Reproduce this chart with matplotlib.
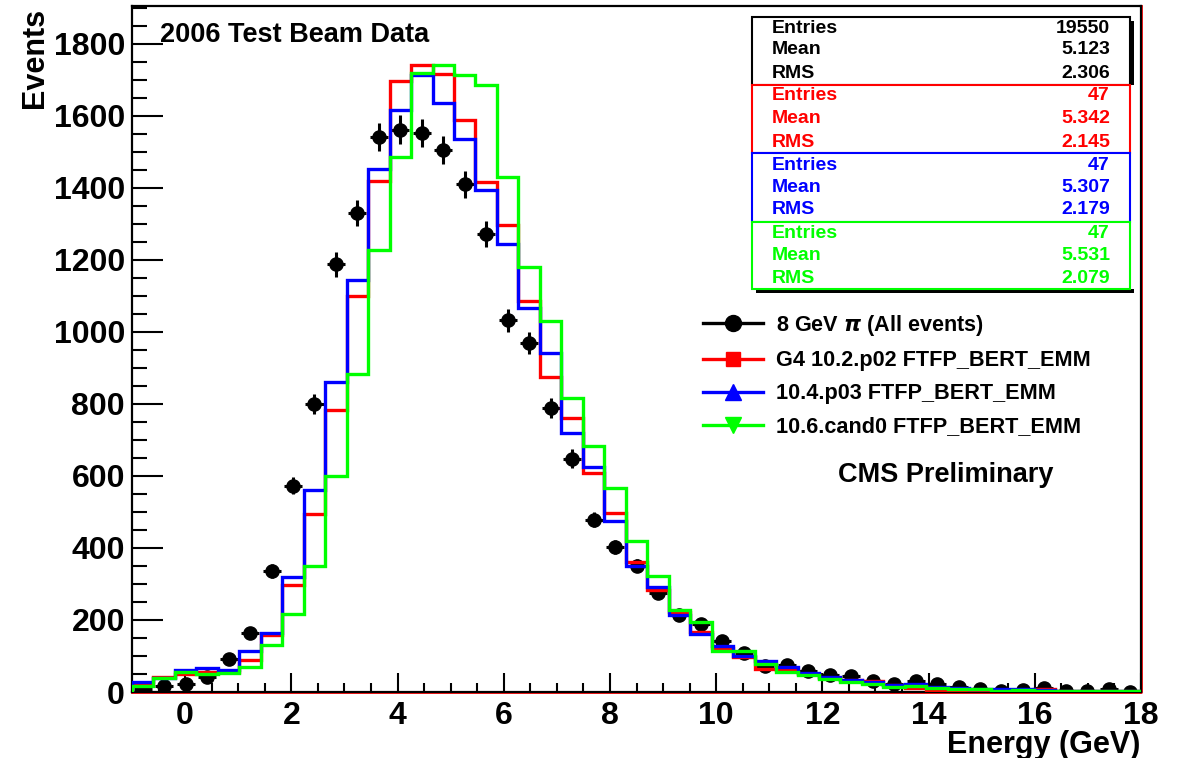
import numpy as np
import matplotlib
matplotlib.use("Agg")
import matplotlib.pyplot as plt
from matplotlib.lines import Line2D
from matplotlib.patches import Rectangle
from matplotlib.ticker import MultipleLocator

plt.rcParams['font.family'] = ['Liberation Sans', 'DejaVu Sans']
plt.rcParams['font.weight'] = 'bold'
plt.rcParams['mathtext.fontset'] = 'dejavusans'

# ---------------- data ----------------
x_min, x_max, n_bins = -1.0, 18.0, 47
edges = np.linspace(x_min, x_max, n_bins + 1)
centers = 0.5 * (edges[1:] + edges[:-1])

data_counts = [9, 16, 23, 43, 91, 164, 336, 573, 799, 1188,
               1330, 1541, 1562, 1553, 1504, 1410, 1271, 1032, 969, 789,
               648, 479, 402, 351, 275, 214, 188, 143, 109, 71,
               76, 57, 48, 44, 30, 23, 30, 21, 15, 9,
               4, 6, 11, 4, 2, 7, 1]

g4_102 = [23, 41, 50, 55, 55, 90, 157, 298, 493, 784,
          1101, 1418, 1697, 1740, 1715, 1588, 1416, 1296, 1085, 876,
          761, 608, 498, 361, 282, 222, 168, 123, 97, 64,
          62, 50, 40, 32, 30, 20, 12, 5, 6, 5,
          4, 4, 9, 4, 3, 3, 2]

g4_104 = [29, 40, 60, 67, 60, 115, 165, 319, 562, 861,
          1143, 1451, 1615, 1713, 1637, 1536, 1395, 1245, 1066, 941,
          720, 626, 474, 349, 291, 215, 162, 127, 101, 85,
          69, 53, 41, 32, 27, 20, 23, 15, 11, 9,
          7, 7, 5, 4, 3, 4, 2]

g4_106 = [18, 38, 55, 50, 53, 69, 131, 217, 351, 599,
          884, 1228, 1486, 1718, 1740, 1713, 1685, 1430, 1180, 1029,
          816, 683, 566, 419, 321, 228, 195, 115, 115, 78,
          55, 46, 37, 27, 23, 15, 18, 12, 9, 8,
          4, 5, 4, 4, 3, 3, 2]

x_err = 0.17

legend_labels = ["8 GeV $\\pi$ (All events)",
                 "G4 10.2.p02 FTFP_BERT_EMM",
                 "10.4.p03 FTFP_BERT_EMM",
                 "10.6.cand0 FTFP_BERT_EMM"]

stat_names = ["Entries", "Mean", "RMS"]
stat_values = [["19550", "5.123", "2.306"],
               ["47", "5.342", "2.145"],
               ["47", "5.307", "2.179"],
               ["47", "5.531", "2.079"]]
colors = ["black", "#ff0000", "#0000ff", "#00ff00"]

# ---------------- figure ----------------
W, H = 1184, 758
fig = plt.figure(figsize=(W / 100, H / 100), dpi=100)
ax_l, ax_r, ax_t, ax_b = 132, 1141, 6, 692
ax = fig.add_axes([ax_l / W, 1 - ax_b / H, (ax_r - ax_l) / W, (ax_b - ax_t) / H])


def fp(x, y):
    return (x / W, 1 - y / H)


y_max = 1905

ax.errorbar(centers, data_counts, yerr=np.sqrt(data_counts), xerr=x_err,
            fmt='o', color='black', ms=9.5, elinewidth=2.2, capsize=0, zorder=2)
ax.plot([x_min, x_max, x_max], [0, 0, y_max], color=colors[1], lw=2,
        zorder=2.5, clip_on=False)
ax.stairs(g4_102, edges, baseline=0, color=colors[1], lw=2.4, zorder=3)
ax.stairs(g4_104, edges, baseline=0, color=colors[2], lw=2.4, zorder=4)
ax.stairs(g4_106, edges, baseline=0, color=colors[3], lw=2.4, zorder=5)

ax.set_xlim(x_min, x_max)
ax.set_ylim(0, y_max)
ax.xaxis.set_major_locator(MultipleLocator(2))
ax.xaxis.set_minor_locator(MultipleLocator(0.5))
ax.yaxis.set_major_locator(MultipleLocator(200))
ax.yaxis.set_minor_locator(MultipleLocator(50))
ax.tick_params(axis='x', which='major', direction='in', length=13.7, width=1.5,
               labelsize=23, pad=6.5, top=False)
ax.tick_params(axis='x', which='minor', direction='in', length=6.8, width=1.5, top=False)
ax.tick_params(axis='y', which='major', direction='in', length=22.3, width=1.5,
               labelsize=23, pad=5, right=False)
ax.tick_params(axis='y', which='minor', direction='in', length=11, width=1.5, right=False)
for lab in ax.get_xticklabels() + ax.get_yticklabels():
    lab.set_fontweight('bold')
for sp in ax.spines.values():
    sp.set_linewidth(1.6)

# axis titles
fig.text(*fp(35, 8), "Events", rotation=90, ha='center', va='top',
         fontsize=22, fontweight='bold')
fig.text(*fp(1140, 745), "Energy (GeV)", ha='right', va='center',
         fontsize=22, fontweight='bold')

fig.text(*fp(160, 35), "2006 Test Beam Data", ha='left', va='center',
         fontsize=19.5, fontweight='bold')
fig.text(*fp(838, 475), "CMS Preliminary", ha='left', va='center',
         fontsize=19.5, fontweight='bold')

# legend
handles = [
    Line2D([], [], color=colors[0], lw=2.4, marker='o', ms=11.5),
    Line2D([], [], color=colors[1], lw=2.4, marker='s', ms=10.5),
    Line2D([], [], color=colors[2], lw=2.4, marker='^', ms=11),
    Line2D([], [], color=colors[3], lw=2.4, marker='v', ms=11),
]
ax.legend(handles, legend_labels, loc='upper left', bbox_to_anchor=fp(703, 313),
          bbox_transform=fig.transFigure, frameon=False,
          handlelength=2.77, handletextpad=0.6, labelspacing=0.56,
          borderpad=0, borderaxespad=0, prop={'weight': 'bold', 'size': 15.6})

# stats boxes
box_x0, box_x1 = 752, 1130
box_tops = [16.7, 85, 153, 221.7, 289]
line_ys = [[28.3, 50, 73.3], [95, 118.3, 142.7], [165, 187.3, 210], [233.3, 256, 278.3]]


def add_rect(x0, y0, x1, y1, **kw):
    r = Rectangle(fp(x0, y1), (x1 - x0) / W, (y1 - y0) / H,
                  transform=fig.transFigure, **kw)
    fig.add_artist(r)


# shadows
add_rect(box_x1, box_tops[0] + 4, box_x1 + 4, box_tops[1], facecolor='black',
         edgecolor='none', zorder=9)
add_rect(box_x0 + 4, box_tops[4], box_x1 + 4, box_tops[4] + 4, facecolor='black',
         edgecolor='none', zorder=9)
for i in range(4):
    add_rect(box_x0, box_tops[i], box_x1, box_tops[i + 1], facecolor='white',
             edgecolor=colors[i], lw=1.5, zorder=10)
    for j in range(3):
        fig.text(*fp(771.7, line_ys[i][j]), stat_names[j], ha='left', va='center',
                 fontsize=14, fontweight='bold', color=colors[i], zorder=11)
        fig.text(*fp(1110, line_ys[i][j]), stat_values[i][j], ha='right', va='center',
                 fontsize=14, fontweight='bold', color=colors[i], zorder=11)

fig.savefig("out.png", dpi=100)
